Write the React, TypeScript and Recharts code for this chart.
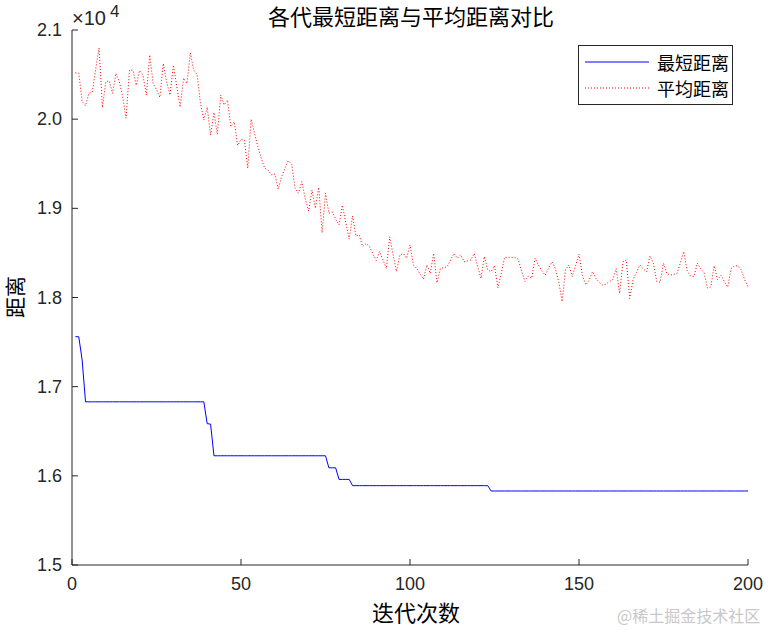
import { Legend, Line, LineChart, XAxis, YAxis } from "recharts";

// best (shortest) route length per generation, gens 1..200
const bestRuns: [number, number][] = [
  // [value, how many generations it holds]
  [17560, 2],
  [17300, 1],
  [16830, 36],
  [16585, 1],
  [16580, 1],
  [16225, 34],
  [16090, 3],
  [15960, 4],
  [15890, 41],
  [15830, 77],
];

const avgDist = [
  20520, 20515, 20200, 20150, 20290, 20300, 20560, 20800, 20130, 20420,
  20430, 20290, 20515, 20420, 20250, 20010, 20550, 20550, 20380, 20545,
  20495, 20270, 20720, 20400, 20330, 20245, 20625, 20420, 20270, 20605,
  20365, 20135, 20460, 20400, 20745, 20550, 20500, 20180, 19990, 20135,
  19820, 20075, 19830, 20270, 20160, 20215, 19915, 19970, 19705, 19775,
  19765, 19450, 20000, 19840, 19690, 19560, 19450, 19430, 19375, 19385,
  19215, 19355, 19450, 19535, 19495, 19225, 19170, 19300, 19110, 18970,
  19205, 19000, 19235, 18725, 19170, 18945, 18960, 18880, 18815, 19035,
  18840, 18655, 18915, 18690, 18700, 18570, 18605, 18575, 18490, 18415,
  18515, 18420, 18325, 18680, 18480, 18290, 18475, 18495, 18440, 18590,
  18365, 18325, 18260, 18205, 18365, 18270, 18495, 18165, 18325, 18335,
  18345, 18420, 18495, 18440, 18480, 18400, 18410, 18420, 18495, 18350,
  18215, 18460, 18310, 18290, 18355, 18110, 18270, 18450, 18450, 18450,
  18450, 18430, 18300, 18180, 18240, 18215, 18440, 18365, 18300, 18250,
  18330, 18400, 18325, 18180, 17955, 18310, 18365, 18235, 18360, 18485,
  18250, 18140, 18195, 18290, 18215, 18170, 18140, 18150, 18180, 18200,
  18325, 18045, 18400, 18420, 17990, 18200, 18280, 18365, 18320, 18290,
  18465, 18385, 18180, 18170, 18385, 18270, 18250, 18260, 18270, 18390,
  18515, 18300, 18240, 18235, 18385, 18320, 18280, 18105, 18120, 18355,
  18200, 18250, 18180, 18115, 18325, 18355, 18355, 18310, 18200, 18120,
];

const xTicks = [0, 50, 100, 150, 200];
const yTicks = [15000, 16000, 17000, 18000, 19000, 20000, 21000];
const legendOrder = ["最短距离", "平均距离"];

const bestDist = bestRuns.flatMap(([v, n]) => Array(n).fill(v) as number[]);
const data = avgDist.map((avg, i) => ({ gen: i + 1, best: bestDist[i], avg }));

const AX = "#262626";
const NUM_FONT = "'Liberation Sans', Arial, sans-serif";
const CJK_FONT = "'Noto Sans CJK SC', sans-serif";
const TICK_LEN = 6;

// matlab-style ticks: short marks pointing into the plot box
function BottomTick({ x, y, payload }: any) {
  return (
    <g>
      <line x1={x} x2={x} y1={y} y2={y - TICK_LEN} stroke={AX} />
      <text x={x} y={y + 25} textAnchor="middle" fill={AX} fontSize={18} fontFamily={NUM_FONT}>
        {payload.value}
      </text>
    </g>
  );
}

function LeftTick({ x, y, payload }: any) {
  return (
    <g>
      <line x1={x} x2={x + TICK_LEN} y1={y} y2={y} stroke={AX} />
      <text x={x - 10} y={y + 6} textAnchor="end" fill={AX} fontSize={18} fontFamily={NUM_FONT}>
        {(payload.value / 10000).toFixed(1)}
      </text>
    </g>
  );
}

function TopTick({ x, y }: any) {
  return <line x1={x} x2={x} y1={y} y2={y + TICK_LEN} stroke={AX} />;
}

function RightTick({ x, y }: any) {
  return <line x1={x} x2={x - TICK_LEN} y1={y} y2={y} stroke={AX} />;
}

function MatlabLegend({ payload }: { payload?: any[] }) {
  const items = [...(payload ?? [])].sort(
    (a, b) => legendOrder.indexOf(a.value) - legendOrder.indexOf(b.value)
  );
  return (
    <div
      style={{
        border: `1px solid ${AX}`,
        background: "#fff",
        width: 153,
        padding: "3px 0",
        fontFamily: CJK_FONT,
        fontSize: 18,
        color: "#000",
      }}
    >
      {items.map((p) => (
        <div key={p.value} style={{ display: "flex", alignItems: "center", height: 26 }}>
          <svg width={74} height={10} style={{ marginLeft: 4 }}>
            <line
              x1={2}
              x2={66}
              y1={5}
              y2={5}
              stroke={p.color}
              strokeWidth={1}
              strokeDasharray={p.payload?.strokeDasharray}
            />
          </svg>
          <span style={{ lineHeight: "20px" }}>{p.value}</span>
        </div>
      ))}
    </div>
  );
}

export default function App() {
  return (
    <div style={{ position: "relative", width: 768, height: 630, background: "#fff" }}>
      <style>{`body{margin:0}`}</style>
      <LineChart
        width={768}
        height={630}
        data={data}
        margin={{ top: 30, right: 20, left: 12, bottom: 35 }}
      >
        <XAxis
          dataKey="gen"
          type="number"
          domain={[0, 200]}
          ticks={xTicks}
          height={30}
          stroke={AX}
          tickLine={false}
          tickSize={0}
          tickMargin={0}
          tick={<BottomTick />}
        />
        <XAxis
          xAxisId="top"
          orientation="top"
          dataKey="gen"
          type="number"
          domain={[0, 200]}
          ticks={xTicks}
          height={0}
          stroke={AX}
          tickLine={false}
          tickSize={0}
          tickMargin={0}
          tick={<TopTick />}
        />
        <YAxis
          type="number"
          domain={[15000, 21000]}
          ticks={yTicks}
          width={60}
          stroke={AX}
          tickLine={false}
          tickSize={0}
          tickMargin={0}
          tick={<LeftTick />}
        />
        <YAxis
          yAxisId="right"
          orientation="right"
          type="number"
          domain={[15000, 21000]}
          ticks={yTicks}
          width={0}
          stroke={AX}
          tickLine={false}
          tickSize={0}
          tickMargin={0}
          tick={<RightTick />}
        />
        <Legend
          layout="vertical"
          align="center"
          verticalAlign="middle"
          wrapperStyle={{ position: "absolute", left: 578, top: 45, width: "auto" }}
          content={<MatlabLegend />}
        />
        <Line
          name="最短距离"
          dataKey="best"
          type="linear"
          stroke="#0000ff"
          strokeWidth={1}
          dot={false}
          isAnimationActive={false}
        />
        <Line
          name="平均距离"
          dataKey="avg"
          type="linear"
          stroke="#ff0000"
          strokeWidth={1}
          strokeDasharray="1 2"
          dot={false}
          isAnimationActive={false}
        />
      </LineChart>

      {/* title, axis labels, exponent, watermark */}
      <div
        style={{
          position: "absolute",
          left: 268,
          top: 2,
          fontFamily: CJK_FONT,
          fontSize: 22,
          lineHeight: "26px",
          color: "#000",
          whiteSpace: "nowrap",
        }}
      >
        各代最短距离与平均距离对比
      </div>
      <div
        style={{
          position: "absolute",
          left: 72,
          top: 8,
          fontFamily: NUM_FONT,
          fontSize: 20,
          lineHeight: "20px",
          color: AX,
          whiteSpace: "nowrap",
        }}
      >
        ×10
      </div>
      <div
        style={{
          position: "absolute",
          left: 110,
          top: 3,
          fontFamily: NUM_FONT,
          fontSize: 17,
          lineHeight: "18px",
          color: AX,
        }}
      >
        4
      </div>
      <div
        style={{
          position: "absolute",
          left: 372,
          top: 598,
          fontFamily: CJK_FONT,
          fontSize: 22,
          lineHeight: "26px",
          color: "#000",
          whiteSpace: "nowrap",
        }}
      >
        迭代次数
      </div>
      <div
        style={{
          position: "absolute",
          left: 14,
          top: 297,
          transform: "translate(-50%, -50%) rotate(-90deg)",
          fontFamily: CJK_FONT,
          fontSize: 21,
          lineHeight: "22px",
          color: "#000",
          whiteSpace: "nowrap",
        }}
      >
        距离
      </div>
      <div
        style={{
          position: "absolute",
          left: 617,
          top: 603,
          fontFamily: CJK_FONT,
          fontSize: 16,
          color: "#c8c8c8",
          whiteSpace: "nowrap",
        }}
      >
        @稀土掘金技术社区
      </div>
    </div>
  );
}
